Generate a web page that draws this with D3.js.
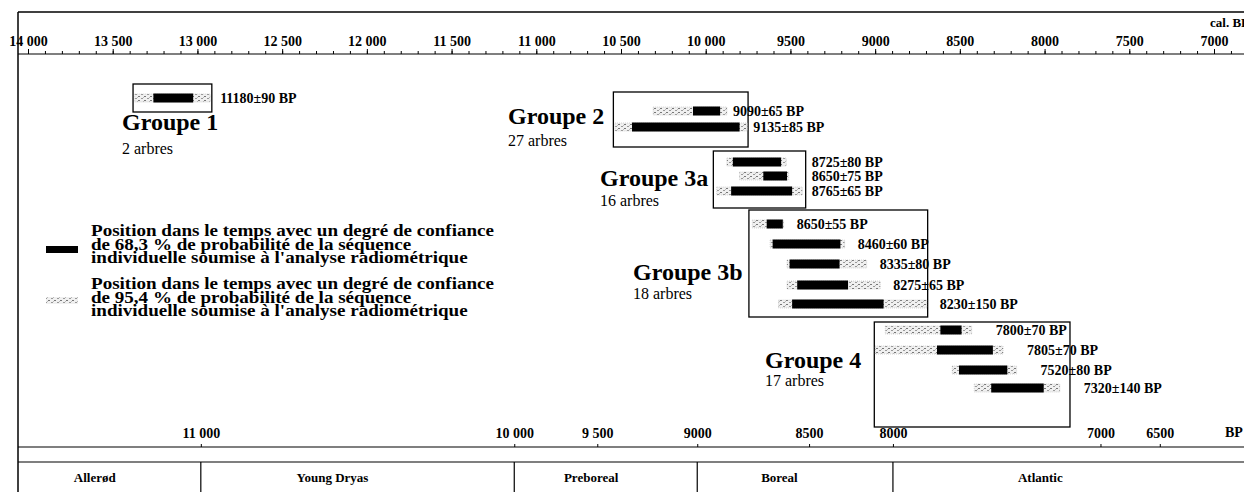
<!DOCTYPE html>
<html><head><meta charset="utf-8">
<script src="https://cdn.jsdelivr.net/npm/d3@7"></script>
<style>html,body{margin:0;padding:0;background:#fff;} svg{display:block;}</style>
</head><body><svg id="chart" width="1244" height="492"></svg>
<script>
// ---------- DATA ----------
const topTickValues = [14000,13500,13000,12500,12000,11500,11000,10500,10000,9500,9000,8500,8000,7500,7000];
const topTickLabels = ["14 000","13 500","13 000","12 500","12 000","11 500","11 000","10 500","10 000","9500","9000","8500","8000","7500","7000"];
const bpTickLabels = ["11 000","10 000","9 500","9000","8500","8000","7000","6500"];
const bpTickCal = [12980,11130,10640,10050,9390,8895,7670,7320];
const periodNames = ["Allerød","Young Dryas","Preboreal","Boreal","Atlantic"];
const periodBoundsCal = [12980,11130,10050,8895];
const groupNames = ["Groupe 1","Groupe 2","Groupe 3a","Groupe 3b","Groupe 4"];
const groupTrees = ["2 arbres","27 arbres","16 arbres","18 arbres","17 arbres"];
const groupBoxCal = [[13380,12915],[10545,9750],[9955,9410],[9745,8690],[9005,7850]];
const sampleGroup = [0,1,1,2,2,2,3,3,3,3,3,4,4,4,4];
const sampleLabels = ["11180±90 BP","9090±65 BP","9135±85 BP","8725±80 BP","8650±75 BP","8765±65 BP","8650±55 BP","8460±60 BP","8335±80 BP","8275±65 BP","8230±150 BP","7800±70 BP","7805±70 BP","7520±80 BP","7320±140 BP"];
const range954 = [[13370,12925],[10310,9875],[10535,9755],[9875,9525],[9800,9510],[9935,9430],[9725,9540],[9620,9180],[9520,9050],[9520,8970],[9570,8695],[8940,8430],[9000,8245],[8545,8165],[8415,7910]];
const range683 = [[13260,13025],[10075,9915],[10435,9800],[9840,9555],[9660,9520],[9850,9490],[9640,9545],[9605,9205],[9505,9210],[9460,9160],[9490,8950],[8615,8490],[8635,8305],[8505,8220],[8315,8005]];
const legend683 = ["Position dans le temps avec un degré de confiance","de 68,3 % de probabilité de la séquence","individuelle soumise à l'analyse radiométrique"];
const legend954 = ["Position dans le temps avec un degré de confiance","de 95,4 % de probabilité de la séquence","individuelle soumise à l'analyse radiométrique"];
const topUnit = "cal. BP";
const bottomUnit = "BP";

// ---------- LAYOUT ----------
const serif = "'Liberation Serif','Times New Roman',serif";
const svg = d3.select("#chart");
const x = d3.scaleLinear().domain([14000,7000]).range([28,1214]);
const L = 18, R = 1244;
const rowY = [98, 111,127, 162,176,191, 224,244,264,285,304, 330,350,370,388];
const boxY = [[84,112],[92,147],[151,208],[210,317],[322,427]];
const nameX = [122,508,600,633,765];
const nameY = [130,124,186,280,368];
const treeY = [154,146,206,299,386];
const labelGap = [10,6,null,13,24];

// stipple pattern for 95.4 %
const defs = svg.append("defs");
const pat = defs.append("pattern").attr("id","stip").attr("patternUnits","userSpaceOnUse").attr("width",6).attr("height",4);
pat.append("rect").attr("width",6).attr("height",4).attr("fill","#f0f0f0");
pat.append("rect").attr("x",0).attr("y",0).attr("width",2).attr("height",1).attr("fill","#777");
pat.append("rect").attr("x",3).attr("y",2).attr("width",2).attr("height",1).attr("fill","#999");
pat.append("rect").attr("x",5).attr("y",1).attr("width",1).attr("height",1).attr("fill","#bbb");

// frame lines
const line = (x1,y1,x2,y2,w) => svg.append("line").attr("x1",x1).attr("y1",y1).attr("x2",x2).attr("y2",y2).attr("stroke","#000").attr("stroke-width",w||1);
line(L,12,R,12,1.5);
line(L,12,L,492,1.5);
line(L,54,R,54,1.2);
line(L,447,R,447,1.2);
line(L,462,R,462,1.2);

// top axis
const minor = d3.range(14000, 6850, -100);
const gMinor = svg.append("g").attr("transform","translate(0,54)")
  .call(d3.axisTop(x).tickValues(minor).tickSize(3).tickFormat(""));
gMinor.select(".domain").remove();
const gTop = svg.append("g").attr("transform","translate(0,54)")
  .call(d3.axisTop(x).tickValues(topTickValues).tickSize(5).tickPadding(3)
    .tickFormat((d,i)=>topTickLabels[i]));
gTop.select(".domain").remove();
svg.selectAll(".tick line").attr("stroke","#000");
gTop.selectAll("text").attr("font-family",serif).attr("font-weight","bold").attr("font-size",14).attr("fill","#000");
svg.append("text").attr("x",1210).attr("y",27).text(topUnit)
  .attr("font-family",serif).attr("font-weight","bold").attr("font-size",13);

// bottom (BP) axis
const gBot = svg.append("g").attr("transform","translate(0,447)")
  .call(d3.axisTop(x).tickValues(bpTickCal).tickSize(3).tickPadding(6)
    .tickFormat((d,i)=>bpTickLabels[i]));
gBot.select(".domain").remove();
gBot.selectAll("line").attr("stroke","#000");
gBot.selectAll("text").attr("font-family",serif).attr("font-weight","bold").attr("font-size",14).attr("fill","#000");
svg.append("text").attr("x",1225).attr("y",437).text(bottomUnit)
  .attr("font-family",serif).attr("font-weight","bold").attr("font-size",14);

// periods
const pEdges = [L, ...periodBoundsCal.map(v=>x(v)), R];
periodBoundsCal.forEach(v=>line(x(v),462,x(v),492,1.2));
periodNames.forEach((n,i)=>{
  const a=pEdges[i], b=pEdges[i+1];
  svg.append("text").attr("x",a+0.42*(b-a)).attr("y",482).attr("text-anchor","middle")
    .text(n).attr("font-family",serif).attr("font-weight","bold").attr("font-size",13);
});

// group boxes and names
groupBoxCal.forEach((b,g)=>{
  svg.append("rect").attr("x",x(b[0])).attr("y",boxY[g][0]).attr("width",x(b[1])-x(b[0])).attr("height",boxY[g][1]-boxY[g][0])
    .attr("fill","none").attr("stroke","#000").attr("stroke-width",1.3);
  svg.append("text").attr("x",nameX[g]).attr("y",nameY[g]).text(groupNames[g])
    .attr("font-family",serif).attr("font-weight","bold").attr("font-size",24);
  svg.append("text").attr("x",nameX[g]).attr("y",treeY[g]).text(groupTrees[g])
    .attr("font-family",serif).attr("font-size",16);
});

// bars
sampleLabels.forEach((lab,i)=>{
  const y=rowY[i], g=sampleGroup[i];
  svg.append("rect").attr("x",x(range954[i][0])).attr("y",y-4).attr("width",x(range954[i][1])-x(range954[i][0])).attr("height",8)
    .attr("fill","url(#stip)").attr("stroke","#aaa").attr("stroke-width",0.5).attr("stroke-dasharray","1,1");
  svg.append("rect").attr("x",x(range683[i][0])).attr("y",y-4.5).attr("width",x(range683[i][1])-x(range683[i][0])).attr("height",9)
    .attr("fill","#000");
  const lx = labelGap[g]===null ? x(groupBoxCal[g][1])+6 : x(range954[i][1])+labelGap[g];
  svg.append("text").attr("x",lx).attr("y",y+5).text(lab)
    .attr("font-family",serif).attr("font-weight","bold").attr("font-size",14);
});

// legend
svg.append("rect").attr("x",46).attr("y",246).attr("width",32).attr("height",7).attr("fill","#000");
svg.append("rect").attr("x",46).attr("y",297).attr("width",32).attr("height",7).attr("fill","url(#stip)");
const legY1=[236,249.5,263], legY2=[289,302.5,316];
function legendText(lines, ys){
  lines.forEach((t,i)=>{
    const el = svg.append("text").attr("x",91).attr("y",ys[i]).text(t)
      .attr("font-family",serif).attr("font-weight","bold").attr("font-size",16);
    const w = el.node().getComputedTextLength();
    el.attr("textLength", w*1.19).attr("lengthAdjust","spacingAndGlyphs");
  });
}
legendText(legend683, legY1);
legendText(legend954, legY2);
</script>
</body></html>
